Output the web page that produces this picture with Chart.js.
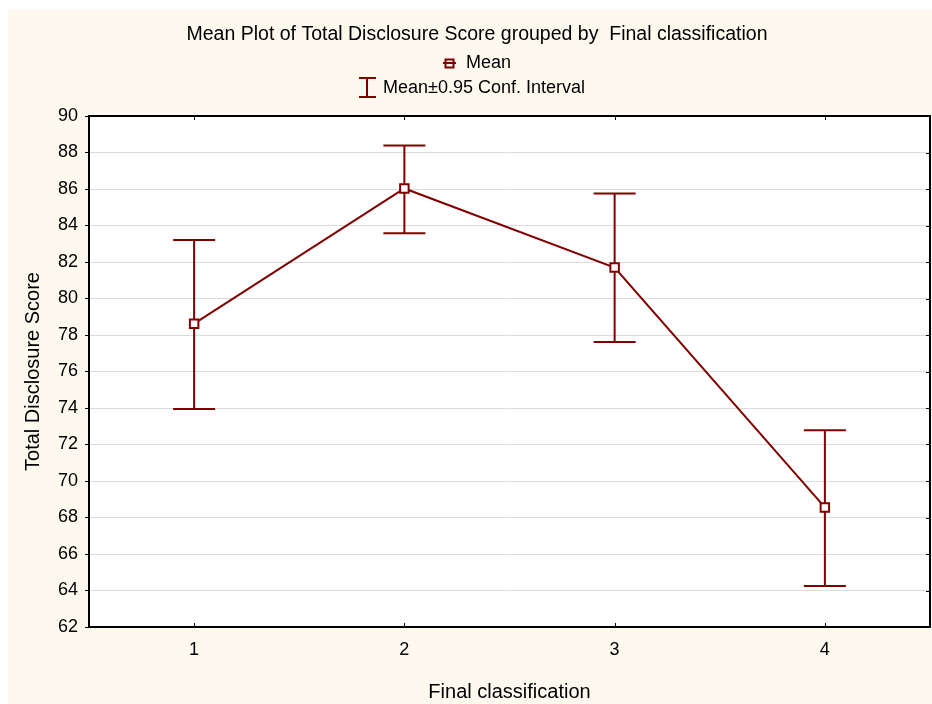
<!DOCTYPE html>
<html>
<head>
<meta charset="utf-8">
<script src="https://cdn.jsdelivr.net/npm/chart.js@4"></script>
<style>
    body { margin: 0; background: #ffffff; }
    canvas { display: block; }
</style>
</head>
<body>
<canvas id="chart" width="932" height="704"></canvas>
<script>
const CATEGORIES = ['1', '2', '3', '4'];
const MEANS = [78.62, 86.03, 81.7, 68.55];
const UPPER = [83.2, 88.38, 85.75, 72.78];
const LOWER = [73.95, 83.57, 77.62, 64.25];
const Y_TICKS = [62, 64, 66, 68, 70, 72, 74, 76, 78, 80, 82, 84, 86, 88, 90];

const TITLE = 'Mean Plot of Total Disclosure Score grouped by  Final classification';
const RED = '#800000';
const FONT = '"Liberation Sans", Arial, sans-serif';


// Cream page background, white plot area
const backgroundPlugin = {
    id: 'background',
    beforeDraw(chart) {
        const {ctx, chartArea} = chart;
        ctx.save();
        ctx.fillStyle = '#ffffff';
        ctx.fillRect(0, 0, chart.width, chart.height);
        ctx.fillStyle = '#fdf9ef';
        ctx.fillRect(8, 9, chart.width - 8, chart.height - 9);
        ctx.fillStyle = '#ffffff';
        ctx.fillRect(chartArea.left, chartArea.top, chartArea.right - chartArea.left, chartArea.bottom - chartArea.top);
        ctx.restore();
    }
};


// Whiskers for the confidence interval
const errorBarPlugin = {
    id: 'errorBars',
    beforeDatasetsDraw(chart) {
        const {ctx, scales} = chart;
        const x = scales.x;
        const y = scales.y;
        ctx.save();
        ctx.strokeStyle = RED;
        ctx.lineWidth = 2;
        CATEGORIES.forEach((cat, i) => {
            const px = x.getPixelForValue(i);
            const top = y.getPixelForValue(UPPER[i]);
            const bot = y.getPixelForValue(LOWER[i]);
            ctx.beginPath();
            ctx.moveTo(px, top);
            ctx.lineTo(px, bot);
            ctx.moveTo(px - 21, top);
            ctx.lineTo(px + 21, top);
            ctx.moveTo(px - 21, bot);
            ctx.lineTo(px + 21, bot);
            ctx.stroke();
        });
        ctx.restore();
    }
};


// Frame, inner ticks, title and legend
const framePlugin = {
    id: 'frame',
    afterDraw(chart) {
        const {ctx, chartArea, scales} = chart;
        const {left, right, top, bottom} = chartArea;
        ctx.save();
        ctx.strokeStyle = '#000000';
        ctx.lineWidth = 1;
        ctx.beginPath();
        CATEGORIES.forEach((cat, i) => {
            const px = Math.round(scales.x.getPixelForValue(i)) + 0.5;
            ctx.moveTo(px, top);
            ctx.lineTo(px, top + 4);
            ctx.moveTo(px, bottom);
            ctx.lineTo(px, bottom - 4);
        });
        Y_TICKS.forEach((v) => {
            const py = Math.round(scales.y.getPixelForValue(v)) + 0.5;
            ctx.moveTo(right, py);
            ctx.lineTo(right - 4, py);
        });
        ctx.stroke();

        ctx.lineWidth = 2;
        ctx.strokeRect(left, top, right - left, bottom - top);

        // Title
        ctx.fillStyle = '#000000';
        ctx.textBaseline = 'middle';
        ctx.textAlign = 'center';
        ctx.font = `19.5px ${FONT}`;
        ctx.fillText(TITLE, 477, 35);

        // Legend: mean
        ctx.textAlign = 'left';
        ctx.font = `18px ${FONT}`;
        ctx.strokeStyle = RED;
        ctx.lineWidth = 2;
        ctx.beginPath();
        ctx.moveTo(443, 63);
        ctx.lineTo(456, 63);
        ctx.stroke();
        ctx.strokeRect(445.5, 59.5, 8, 8);
        ctx.fillText('Mean', 466, 63);

        // Legend: confidence interval
        ctx.beginPath();
        ctx.moveTo(367, 78);
        ctx.lineTo(367, 97);
        ctx.moveTo(359, 78);
        ctx.lineTo(376, 78);
        ctx.moveTo(359, 97);
        ctx.lineTo(376, 97);
        ctx.stroke();
        ctx.fillText('Mean\u00b10.95 Conf. Interval', 383, 88);
        ctx.restore();
    }
};


const config = {
    type: 'line',
    data: {
        labels: CATEGORIES,
        datasets: [{
            label: 'Mean',
            data: MEANS,
            borderColor: RED,
            borderWidth: 2,
            pointStyle: 'rect',
            pointRadius: 6,
            pointBorderWidth: 2,
            pointBorderColor: RED,
            pointBackgroundColor: '#ffffff',
            tension: 0
        }]
    },
    options: {
        responsive: false,
        animation: false,
        layout: {
            autoPadding: false,
            padding: {left: 8, top: 116, right: 2, bottom: 0}
        },
        scales: {
            x: {
                type: 'category',
                offset: true,
                afterFit: (scale) => {
                    scale.height = 77;
                    scale.paddingLeft = 0;
                    scale.paddingRight = 0;
                },
                grid: {display: false},
                border: {display: false},
                ticks: {
                    color: '#000000',
                    padding: 4,
                    font: {family: FONT, size: 18}
                },
                title: {
                    display: true,
                    text: 'Final classification',
                    color: '#000000',
                    padding: {top: 7, bottom: 0},
                    font: {family: FONT, size: 20}
                }
            },
            y: {
                min: 62,
                max: 90,
                afterFit: (scale) => { scale.width = 81; },
                afterBuildTicks: (scale) => {
                    scale.ticks = Y_TICKS.map((v) => ({value: v}));
                },
                grid: {
                    color: '#dcdcdc',
                    tickColor: '#000000',
                    tickLength: 4
                },
                border: {display: false},
                ticks: {
                    color: '#000000',
                    padding: 7,
                    font: {family: FONT, size: 18}
                },
                title: {
                    display: true,
                    text: 'Total Disclosure Score',
                    color: '#000000',
                    padding: {top: 13, bottom: 0},
                    font: {family: FONT, size: 20}
                }
            }
        },
        plugins: {
            legend: {display: false},
            title: {display: false},
            tooltip: {enabled: false}
        }
    },
    plugins: [backgroundPlugin, errorBarPlugin, framePlugin]
};

const chart = new Chart(document.getElementById('chart'), config);
</script>
</body>
</html>
